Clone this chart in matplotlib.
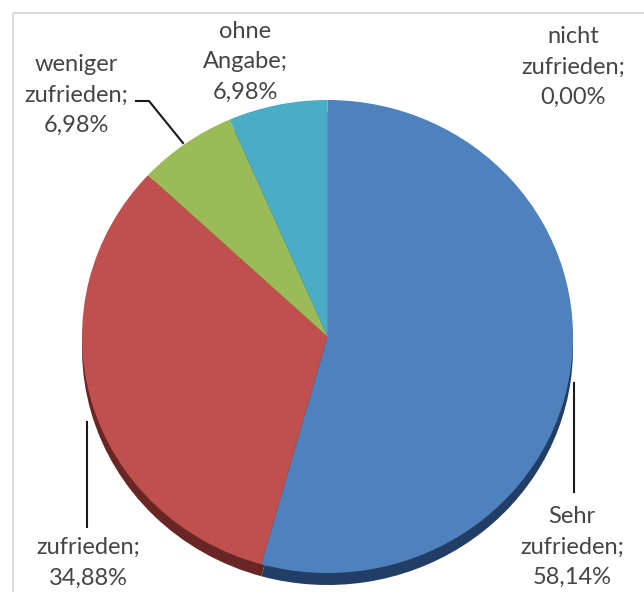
import matplotlib
matplotlib.use('Agg')
import matplotlib.pyplot as plt
from matplotlib.patches import Rectangle

# Daten
categories = ['Sehr\nzufrieden', 'zufrieden', 'nicht\nzufrieden', 'weniger\nzufrieden', 'ohne\nAngabe']
values = [58.14, 34.88, 0.00, 6.98, 6.98]
colors = ['#4F81BD', '#C0504D', '#8064A2', '#9BBB59', '#4BACC6']
side_colors = ['#213f66', '#6a2624', '#3f2f55', '#56692f', '#27606f']

# Label-Positionen (Pixel) und Leader-Linien
label_pos = [(572, 547), (88, 563), (573, 67), (76, 95), (245, 62)]
leaders = {
    0: ([574, 574], [383, 492]),
    1: ([87, 87], [422, 527]),
    3: ([136, 149, 183], [101, 101, 143]),
}

W, H = 644, 592
fig = plt.figure(figsize=(W / 100, H / 100), dpi=100)
fig.patch.set_facecolor('white')

# Hintergrund mit Rahmen
bg = fig.add_axes([0, 0, 1, 1])
bg.set_xlim(0, W)
bg.set_ylim(H, 0)
bg.axis('off')
bg.add_patch(Rectangle((13, 13), 800, 800, fill=False, edgecolor='#d4d4d4', linewidth=1.2))

# Kreisdiagramm (leicht elliptisch wie Excel-3D)
x0, x1, y0, y1 = 82, 573, 100, 573
ax = fig.add_axes([x0 / W, 1 - y1 / H, (x1 - x0) / W, (y1 - y0) / H])
shadow = 12 / ((y1 - y0) / 2)
ax.pie(values, colors=side_colors, startangle=90, counterclock=False,
       center=(0, -shadow), radius=1, frame=True,
       wedgeprops=dict(linewidth=0, clip_on=False))
ax.pie(values, colors=colors, startangle=90, counterclock=False,
       center=(0, 0), radius=1, frame=True,
       wedgeprops=dict(linewidth=0, clip_on=False))
ax.set_aspect('auto')
ax.set_xlim(-1, 1)
ax.set_ylim(-1, 1)
ax.axis('off')

# Beschriftungen
top = fig.add_axes([0, 0, 1, 1])
top.set_xlim(0, W)
top.set_ylim(H, 0)
top.axis('off')
top.patch.set_alpha(0)

for i, (cat, val) in enumerate(zip(categories, values)):
    txt = f'{cat};\n{val:.2f}%'.replace('.', ',')
    x, y = label_pos[i]
    top.text(x, y, txt, ha='center', va='center', fontsize=17, family='Lato',
             color='#454545', linespacing=1.55)

for i, (lx, ly) in leaders.items():
    top.plot(lx, ly, color='#1a1a1a', linewidth=1.5)

fig.savefig('out.png', dpi=100)
